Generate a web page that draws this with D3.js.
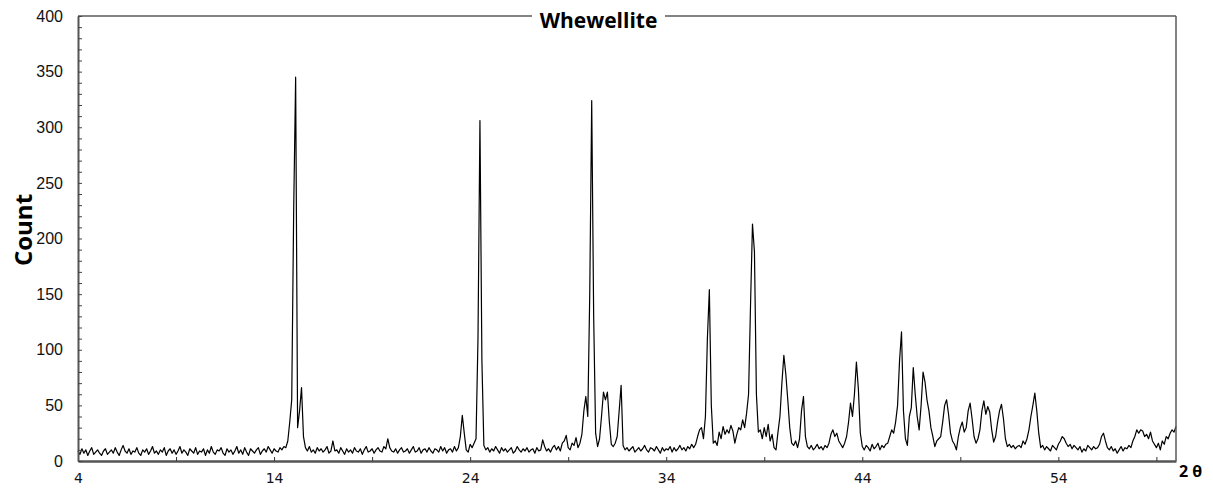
<!DOCTYPE html>
<html lang="en">
<head>
    <meta charset="UTF-8">
    <title>Whewellite</title>
    <script src="https://d3js.org/d3.v7.min.js"></script>
    <style>
        body, html {
            margin: 0;
            background: #fff;
            overflow: hidden;
        }
        .trace {
            fill: none;
            stroke: #000;
            stroke-width: 1.2px;
            stroke-linejoin: round;
        }
        .frame {
            stroke: #5a5a5a;
            stroke-width: 1.5px;
        }
    </style>
</head>
<body>
<script>
    // scan settings (2θ, degrees)
    const scanStart = 4.0;
    const scanStep = 0.1;

    // counts, one row per degree (4.0 .. 60.0)
    const counts = [
        9, 6, 11, 7, 10, 5, 9, 12, 6, 8,          // 4
        10, 7, 5, 9, 11, 6, 8, 10, 7, 12,         // 5
        8, 5, 10, 14, 9, 7, 11, 6, 9, 8,          // 6
        12, 7, 5, 10, 8, 11, 6, 9, 13, 7,         // 7
        9, 6, 10, 8, 12, 5, 9, 11, 7, 10,         // 8
        6, 9, 13, 7, 10, 8, 5, 11, 9, 7,          // 9
        12, 6, 9, 8, 11, 5, 10, 7, 13, 8,         // 10
        6, 10, 9, 12, 7, 5, 11, 8, 10, 6,         // 11
        9, 13, 7, 10, 6, 12, 8, 5, 11, 9,         // 12
        7, 10, 12, 6, 9, 11, 8, 13, 10, 7,        // 13
        11, 9, 8, 12, 10, 13, 12, 18, 35, 55,     // 14
        225, 345, 30, 45, 66, 22, 12, 9, 13, 8,   // 15
        10, 7, 12, 9, 11, 8, 10, 13, 7, 9,        // 16
        18, 9, 10, 7, 12, 9, 6, 11, 8, 10,        // 17
        7, 12, 9, 8, 11, 6, 10, 13, 8, 9,         // 18
        11, 7, 10, 12, 9, 8, 13, 11, 20, 12,      // 19
        9, 8, 11, 7, 10, 12, 8, 9, 11, 7,         // 20
        10, 13, 8, 9, 12, 7, 10, 11, 8, 12,       // 21
        9, 7, 11, 10, 8, 13, 9, 12, 7, 10,        // 22
        11, 8, 13, 9, 12, 22, 41, 25, 10, 8,      // 23
        15, 12, 16, 20, 110, 306, 90, 14, 10, 12, // 24
        8, 11, 9, 13, 10, 7, 12, 9, 11, 8,        // 25
        10, 12, 7, 9, 13, 10, 8, 11, 9, 12,       // 26
        8, 10, 11, 7, 12, 9, 10, 19, 13, 9,       // 27
        11, 8, 12, 14, 10, 13, 9, 16, 18, 23,     // 28
        12, 10, 16, 14, 21, 12, 16, 24, 45, 58,   // 29
        40, 150, 324, 130, 25, 13, 20, 40, 62, 55,// 30
        62, 35, 15, 13, 16, 22, 45, 68, 14, 10,   // 31
        12, 9, 11, 13, 8, 10, 12, 9, 11, 14,      // 32
        10, 8, 12, 11, 9, 13, 10, 7, 12, 9,       // 33
        11, 10, 13, 8, 12, 9, 11, 14, 10, 12,     // 34
        9, 13, 11, 15, 12, 15, 22, 28, 30, 20,    // 35
        40, 110, 154, 50, 16, 18, 14, 26, 20, 31, // 36
        24, 28, 25, 32, 27, 16, 24, 30, 28, 37,   // 37
        30, 43, 60, 140, 213, 188, 60, 26, 28, 20,// 38
        30, 22, 33, 18, 24, 12, 10, 26, 40, 70,   // 39
        95, 78, 55, 30, 16, 14, 18, 12, 20, 45,   // 40
        58, 22, 13, 11, 14, 10, 12, 15, 11, 13,   // 41
        10, 14, 12, 16, 24, 28, 22, 25, 18, 15,   // 42
        12, 16, 22, 35, 52, 40, 60, 89, 65, 25,   // 43
        13, 10, 14, 12, 9, 15, 11, 13, 16, 10,    // 44
        14, 12, 15, 16, 22, 28, 25, 35, 50, 90,   // 45
        116, 45, 20, 14, 40, 48, 84, 60, 40, 28,  // 46
        50, 80, 71, 55, 45, 30, 22, 13, 18, 20,   // 47
        22, 35, 50, 55, 42, 25, 18, 15, 10, 22,   // 48
        30, 35, 26, 30, 45, 52, 38, 22, 16, 20,   // 49
        28, 45, 54, 42, 49, 44, 28, 17, 22, 35,   // 50
        45, 51, 38, 20, 13, 15, 12, 14, 11, 13,   // 51
        14, 12, 18, 15, 20, 28, 40, 50, 61, 45,   // 52
        25, 12, 14, 10, 13, 11, 9, 14, 12, 10,    // 53
        15, 18, 22, 20, 16, 13, 15, 11, 14, 12,   // 54
        10, 13, 8, 11, 9, 14, 12, 10, 13, 11,     // 55
        12, 15, 22, 25, 18, 12, 10, 13, 9, 11,    // 56
        7, 10, 13, 9, 12, 11, 14, 12, 18, 22,     // 57
        28, 25, 28, 27, 22, 24, 20, 26, 18, 15,   // 58
        12, 16, 10, 18, 15, 22, 20, 25, 28, 26,   // 59
        31                                        // 60
    ];
    const twoTheta = counts.map((c, i) => +(scanStart + i * scanStep).toFixed(1));

    const xTicks = [4, 9, 14, 19, 24, 29, 34, 39, 44, 49, 54, 59];
    const xLabels = [4, 14, 24, 34, 44, 54];
    const yTicks = d3.range(0, 401, 10);
    const yLabels = [0, 50, 100, 150, 200, 250, 300, 350, 400];

    const width = 1213, height = 488;
    const plotLeft = 78, plotRight = 1176, plotTop = 16, plotBottom = 461;

    const svg = d3.select('body').append('svg')
        .attr('width', width)
        .attr('height', height);

    const x = d3.scaleLinear().domain([4, 60]).range([plotLeft, plotRight]);
    const y = d3.scaleLinear().domain([0, 400]).range([plotBottom, plotTop]);

    // the pattern
    const line = d3.line()
        .x((d, i) => x(twoTheta[i]))
        .y(d => y(d));
    svg.append('path')
        .datum(counts)
        .attr('class', 'trace')
        .attr('d', line);

    // frame: right side and top, top broken by the title
    svg.append('line').attr('class', 'frame')
        .attr('x1', plotRight).attr('x2', plotRight).attr('y1', plotTop).attr('y2', plotBottom);
    svg.append('line').attr('class', 'frame')
        .attr('x1', plotLeft).attr('x2', 532).attr('y1', plotTop).attr('y2', plotTop);
    svg.append('line').attr('class', 'frame')
        .attr('x1', 665).attr('x2', plotRight).attr('y1', plotTop).attr('y2', plotTop);

    // x axis, ticks pointing inward
    const xAxis = svg.append('g')
        .attr('transform', `translate(0,${plotBottom})`)
        .call(d3.axisBottom(x)
            .tickValues(xTicks)
            .tickSizeInner(-4)
            .tickSizeOuter(0)
            .tickPadding(12)
            .tickFormat(d => xLabels.includes(d) ? d : ''));
    xAxis.select('.domain').attr('stroke', '#555').attr('stroke-width', 2.5);
    xAxis.selectAll('.tick line').attr('stroke', '#333');
    xAxis.selectAll('text')
        .style('font-family', '"DejaVu Sans", sans-serif')
        .style('font-size', '14px')
        .attr('fill', '#111');

    // y axis
    const yAxis = svg.append('g')
        .attr('transform', `translate(${plotLeft},0)`)
        .call(d3.axisLeft(y)
            .tickValues(yTicks)
            .tickSizeInner(-4)
            .tickSizeOuter(0)
            .tickPadding(15)
            .tickFormat(d => yLabels.includes(d) ? d : ''));
    yAxis.select('.domain').attr('stroke', '#555').attr('stroke-width', 2);
    yAxis.selectAll('.tick line').attr('stroke', '#444');
    yAxis.selectAll('text')
        .style('font-family', 'Arial, "Liberation Sans", sans-serif')
        .style('font-size', '16px')
        .attr('fill', '#111');

    // titles
    svg.append('text')
        .attr('x', 598.5)
        .attr('y', 28)
        .attr('text-anchor', 'middle')
        .style('font-family', '"Open Sans", sans-serif')
        .style('font-weight', 'bold')
        .style('font-size', '21px')
        .text('Whewellite');

    svg.append('text')
        .attr('transform', 'translate(32,230) rotate(-90)')
        .attr('text-anchor', 'middle')
        .style('font-family', '"Open Sans", sans-serif')
        .style('font-weight', 'bold')
        .style('font-size', '24px')
        .text('Count');

    svg.append('text')
        .attr('x', 1179)
        .attr('y', 477)
        .style('font-family', '"Open Sans", sans-serif')
        .style('font-weight', 'bold')
        .style('font-size', '16px')
        .text('2 θ');
</script>
</body>
</html>
